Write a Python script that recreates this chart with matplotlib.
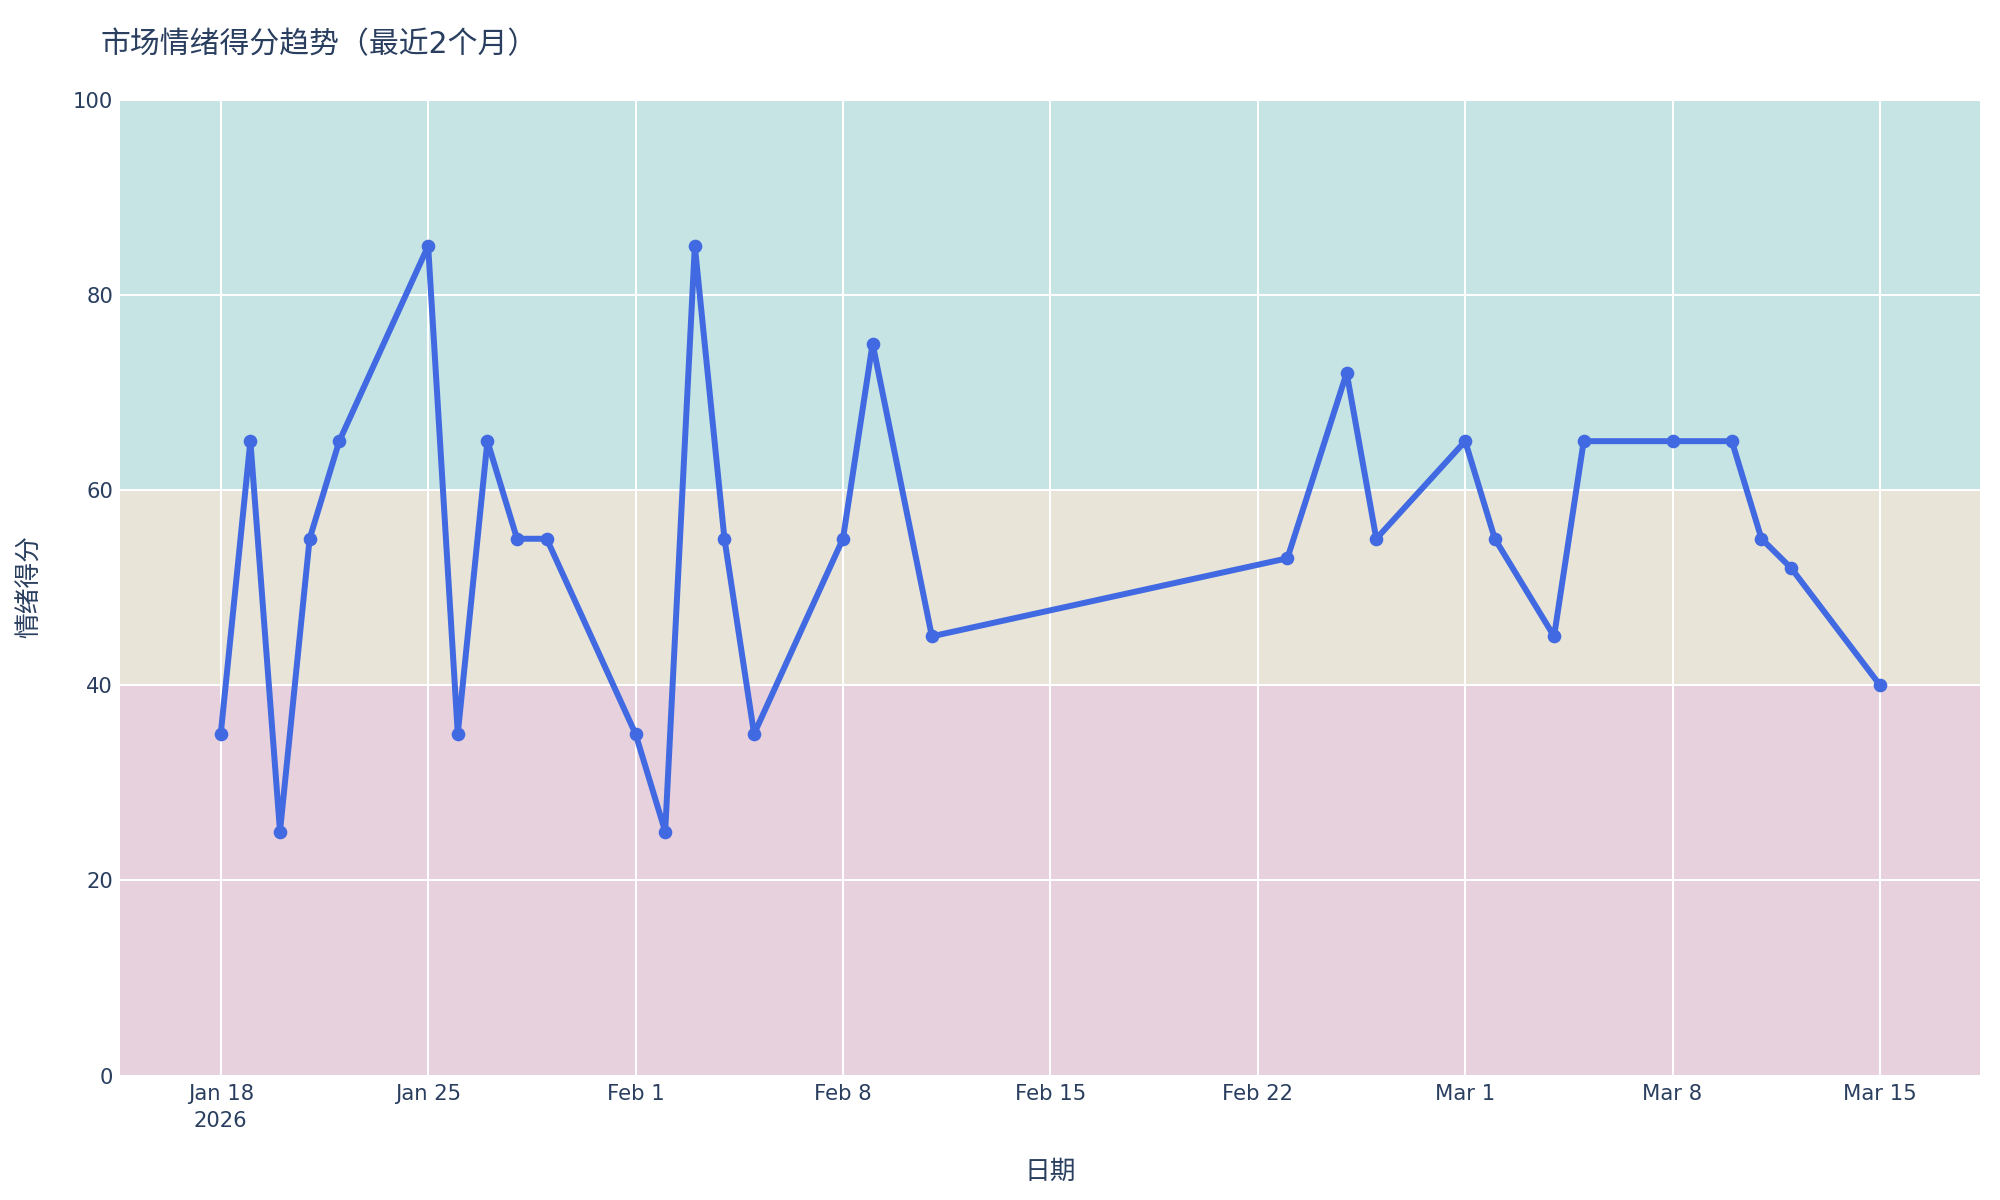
"""Market sentiment score trend, last two months"""
import numpy as np
import pandas as pd
import matplotlib
matplotlib.use("Agg")
from matplotlib import pyplot as plt

plt.rcParams['font.family'] = ['DejaVu Sans', 'Noto Sans CJK SC']

# data
dates = ['2026-01-18', '2026-01-19', '2026-01-20', '2026-01-21', '2026-01-22',
         '2026-01-25', '2026-01-26', '2026-01-27', '2026-01-28', '2026-01-29',
         '2026-02-01', '2026-02-02', '2026-02-03', '2026-02-04', '2026-02-05',
         '2026-02-08', '2026-02-09', '2026-02-11', '2026-02-23', '2026-02-25',
         '2026-02-26', '2026-03-01', '2026-03-02', '2026-03-04', '2026-03-05',
         '2026-03-08', '2026-03-10', '2026-03-11', '2026-03-12', '2026-03-15']
scores = [35, 65, 25, 55, 65,
          85, 35, 65, 55, 55,
          35, 25, 85, 55, 35,
          55, 75, 45, 53, 72,
          55, 65, 55, 45, 65,
          65, 65, 55, 52, 40]

band_edges = [0, 40, 60, 100]
band_colors = ['#e7d1dc', '#e8e4d8', '#c5e4e3']

title = '市场情绪得分趋势（最近2个月）'
xlabel = '日期'
ylabel = '情绪得分'
text_color = '#2a3f5f'

x = pd.to_datetime(dates)

fig = plt.figure(figsize=(20, 12), dpi=100)
ax = fig.add_axes([0.06, 0.10375, 0.93, 0.81325])

# sentiment bands
for lo, hi, col in zip(band_edges[:-1], band_edges[1:], band_colors):
    ax.axhspan(lo, hi, color=col, zorder=0, lw=0)

ax.plot(x, scores, color='#4169e1', lw=4.3, marker='o', ms=8.8,
        solid_joinstyle='round', zorder=3)

# axes ranges and ticks
x0 = pd.Timestamp('2026-01-18') - pd.Timedelta(days=3.4)
x1 = pd.Timestamp('2026-03-15') + pd.Timedelta(days=3.375)
ax.set_xlim(x0, x1)
ax.set_ylim(0, 100)

xt = pd.date_range('2026-01-18', '2026-03-15', freq='7D')
xt_labels = [d.strftime('%b ') + str(d.day) for d in xt]
xt_labels[0] = xt_labels[0] + '\n2026'
ax.set_xticks(xt)
ax.set_xticklabels(xt_labels, linespacing=1.45)
ax.set_yticks(np.arange(0, 101, 20))

ax.tick_params(length=0, labelsize=15.2, labelcolor=text_color)
ax.tick_params(axis='x', pad=6)
ax.tick_params(axis='y', pad=5)
ax.grid(True, color='white', lw=1.45)
ax.set_axisbelow(True)
for s in ax.spines.values():
    s.set_visible(False)

fig.text(0.0505, 1 - 45 / 1200, title, fontsize=21.5, color=text_color,
         ha='left', va='center')
fig.text(0.525, 1 - 1172 / 1200, xlabel, fontsize=18.5, color=text_color,
         ha='center', va='center')
fig.text(29.5 / 2000, 0.511, ylabel, fontsize=18.5, color=text_color,
         ha='center', va='center', rotation=90)

fig.savefig('out.png', dpi=100)
